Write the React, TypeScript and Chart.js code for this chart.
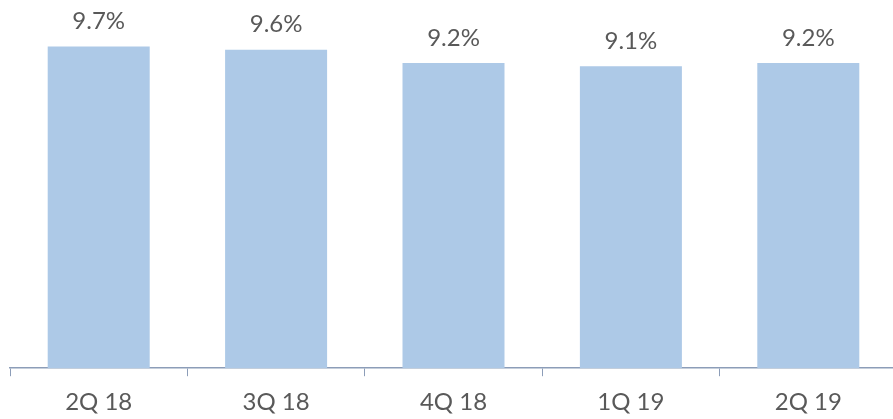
import React, { useEffect, useRef } from "react";
import { Chart, registerables } from "chart.js";

Chart.register(...registerables);

const categories = ["2Q 18", "3Q 18", "4Q 18", "1Q 19", "2Q 19"];
const values = [9.7, 9.6, 9.2, 9.1, 9.2];
const valueLabels = ["9.7%", "9.6%", "9.2%", "9.1%", "9.2%"];

const FONT = "Lato, 'DejaVu Sans', sans-serif";
const TEXT = "#595959";
const AXIS = "#8C9DB8";
const BAR = "#ADC9E7";

const labelPlugin = {
  id: "valueLabels",
  afterDatasetsDraw(chart: any) {
    const ctx = chart.ctx;
    const meta = chart.getDatasetMeta(0);
    ctx.save();
    ctx.font = `24px ${FONT}`;
    ctx.fillStyle = TEXT;
    ctx.textAlign = "center";
    ctx.textBaseline = "middle";
    meta.data.forEach((bar: any, i: number) => {
      ctx.fillText(valueLabels[i], bar.x, bar.y - 25);
    });
    ctx.restore();
  },
};

export default function App() {
  const ref = useRef<HTMLCanvasElement | null>(null);
  useEffect(() => {
    document.body.style.margin = "0";
    if (!ref.current) return;
    const chart = new Chart(ref.current, {
      type: "bar",
      data: {
        labels: categories,
        datasets: [
          {
            data: values,
            backgroundColor: BAR,
            borderWidth: 0,
            categoryPercentage: 1,
            barPercentage: 0.575,
          },
        ],
      },
      options: {
        animation: false,
        responsive: false,
        layout: { padding: { left: 10, right: 0, top: 0, bottom: -10 } },
        plugins: { legend: { display: false }, tooltip: { enabled: false } },
        scales: {
          x: {
            grid: {
              display: true,
              drawOnChartArea: false,
              drawTicks: true,
              tickLength: 8,
              color: AXIS,
              offset: true,
            },
            border: { display: true, color: AXIS, width: 1.5 },
            ticks: {
              color: TEXT,
              font: { family: FONT, size: 24 },
              padding: 12,
              maxRotation: 0,
            },
          },
          y: {
            display: false,
            min: 0,
            max: 11.1,
          },
        },
      },
      plugins: [labelPlugin],
    });
    return () => chart.destroy();
  }, []);
  return (
    <div style={{ width: 893, height: 419, overflow: "hidden", position: "relative" }}>
      <canvas ref={ref} width={897} height={419} style={{ display: "block" }} />
    </div>
  );
}
